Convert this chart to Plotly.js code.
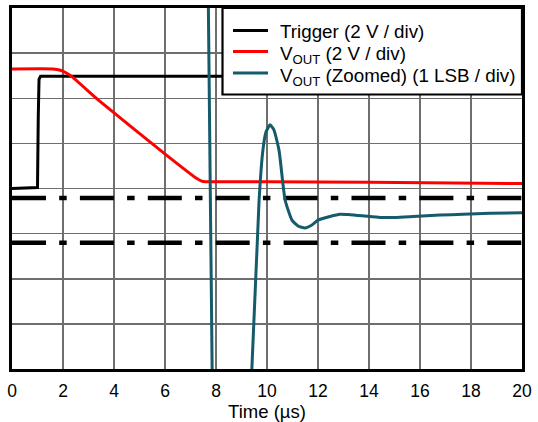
<!DOCTYPE html>
<html>
<head>
<meta charset="utf-8">
<script src="https://cdn.plot.ly/plotly-3.0.1.min.js"></script>
<style>
  html, body { margin: 0; padding: 0; background: #fff; }
  #chart { width: 538px; height: 422px; }
</style>
</head>
<body>
<div id="chart"></div>
<script>
// Time axis values (µs) and signal levels in divisions (0..8)
const triggerTime = [0, 1.0, 1.03, 1.06, 1.12, 20];
const triggerLevel = [4.0, 4.02, 5.6, 6.42, 6.49, 6.49];

const voutTime = [0, 1.6, 1.9, 2.1, 2.35, 3.45, 6.08, 7.25, 7.45, 7.6, 10, 14, 20];
const voutLevel = [6.65, 6.65, 6.62, 6.57, 6.48, 5.93, 4.73, 4.22, 4.16, 4.15, 4.15, 4.14, 4.11];

const zoomTime = [7.69, 7.86, null, 9.36, 9.69, 9.84, 9.96, 10.12, 10.27, 10.47, 10.71, 10.98, 11.22, 11.49, 11.76, 12.0, 12.47, 12.86, 13.25, 13.84, 14.43, 15.02, 15.73, 16.78, 17.69, 18.75, 20];
const zoomLevel = [8.6, -0.6, null, -0.6, 3.745, 4.85, 5.25, 5.41, 5.30, 4.85, 3.745, 3.30, 3.17, 3.125, 3.19, 3.30, 3.38, 3.43, 3.42, 3.39, 3.36, 3.36, 3.38, 3.41, 3.43, 3.45, 3.46];

const limitTime = [0, 20];
const upperLimit = [3.79, 3.79];
const lowerLimit = [2.80, 2.80];

const xTickVals = [0, 2, 4, 6, 8, 10, 12, 14, 16, 18, 20];
const xTickText = ['0', '2', '4', '6', '8', '10', '12', '14', '16', '18', '20'];

const seriesNames = ['Trigger (2 V / div)', 'V<sub>OUT</sub> (2 V / div)', 'V<sub>OUT</sub> (Zoomed) (1 LSB / div)'];
const seriesColors = ['#000000', '#ff0000', '#155b6b'];

const dashDot = '34px,13.2px,7.5px,13.2px';

const traces = [
  { x: limitTime, y: upperLimit, mode: 'lines', showlegend: false, hoverinfo: 'skip',
    line: { color: '#000', width: 4.5, dash: dashDot } },
  { x: limitTime, y: lowerLimit, mode: 'lines', showlegend: false, hoverinfo: 'skip',
    line: { color: '#000', width: 4.5, dash: dashDot } },
  { x: triggerTime, y: triggerLevel, mode: 'lines', name: seriesNames[0], showlegend: false,
    line: { color: seriesColors[0], width: 3 } },
  { x: voutTime, y: voutLevel, mode: 'lines', name: seriesNames[1], showlegend: false,
    line: { color: seriesColors[1], width: 3, shape: 'spline', smoothing: 0.3 } },
  { x: zoomTime, y: zoomLevel, mode: 'lines', name: seriesNames[2], showlegend: false,
    connectgaps: false,
    line: { color: seriesColors[2], width: 3, shape: 'spline', smoothing: 0.5 } }
];

// Legend drawn by hand (box, samples, texts) in plot-area paper coords
const L = 12, R = 522, T = 8, B = 369;
const px = v => (v - L) / (R - L);
const py = v => (B - v) / (B - T);
const rowY = [31, 52, 73.5];
const textY = [31.5, 55, 77];
const shapes = [
  { type: 'rect', xref: 'paper', yref: 'paper', layer: 'above',
    x0: px(222.5), x1: px(522), y0: py(94.5), y1: py(8),
    fillcolor: '#fff', line: { color: '#000', width: 2.2 } }
];
const annotations = [];
seriesNames.forEach((name, i) => {
  shapes.push({ type: 'line', xref: 'paper', yref: 'paper', layer: 'above',
    x0: px(233), x1: px(268), y0: py(rowY[i] - 0.5), y1: py(rowY[i] - 0.5),
    line: { color: seriesColors[i], width: 3 } });
  annotations.push({ xref: 'paper', yref: 'paper', x: px(278), y: py(textY[i]),
    xanchor: 'left', yanchor: 'middle', showarrow: false, text: name,
    font: { size: 18.8, color: '#000', family: 'Liberation Sans, Arial, sans-serif' } });
});

const layout = {
  width: 538, height: 422,
  margin: { l: 12, r: 16, t: 8, b: 53 },
  paper_bgcolor: '#fff', plot_bgcolor: '#fff',
  font: { family: 'Liberation Sans, Arial, sans-serif', color: '#000', size: 17 },
  showlegend: false,
  shapes: shapes,
  annotations: annotations,
  xaxis: {
    range: [0, 20], tickvals: xTickVals, ticktext: xTickText,
    showgrid: true, gridcolor: '#6e6e6e', gridwidth: 1.5,
    showline: true, linecolor: '#000', linewidth: 3, mirror: true,
    ticks: '', zeroline: false, ticklabelstandoff: 4,
    tickfont: { size: 17.5 },
    title: { text: 'Time (µs)', font: { size: 18.5 }, standoff: 0 }
  },
  yaxis: {
    range: [0, 8], dtick: 1, showticklabels: false,
    showgrid: true, gridcolor: '#6e6e6e', gridwidth: 1.5,
    showline: true, linecolor: '#000', linewidth: 3, mirror: true,
    ticks: '', zeroline: false
  }
};

Plotly.newPlot('chart', traces, layout, { displayModeBar: false, staticPlot: true });
</script>
</body>
</html>
